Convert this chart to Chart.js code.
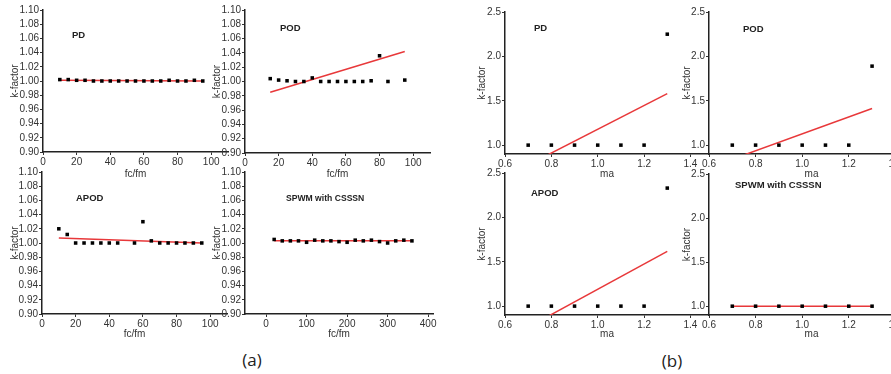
<!DOCTYPE html>
<html>
<head>
<meta charset="utf-8">
<script src="https://cdn.jsdelivr.net/npm/chart.js@4"></script>
<style>
html,body{margin:0;padding:0;background:#fff;overflow:hidden;width:891px;height:374px;position:relative}
canvas{position:absolute}
.lbl{position:absolute;font-family:'Open Sans',sans-serif;font-size:17px;line-height:20px;color:#222;transform:translateX(-50%)}
</style>
</head>
<body>
<div class="lbl" style="left:252px;top:350px">(a)</div>
<div class="lbl" style="left:672px;top:351px">(b)</div>
<script>
// (a) k-factor vs fc/fm
const pdFc = [10,15,20,25,30,35,40,45,50,55,60,65,70,75,80,85,90,95];
const pdK  = [1.002,1.002,1.001,1.001,1.000,1.000,1.000,1.000,1.000,1.000,1.000,1.000,1.000,1.001,1.000,1.000,1.001,1.000];
const pdFitFc = [10,95], pdFitK = [1.001,1.000];

const podFc = [15,20,25,30,35,40,45,50,55,60,65,70,75,80,85,95];
const podK  = [1.004,1.002,1.001,1.000,1.000,1.005,1.000,1.000,1.000,1.000,1.000,1.000,1.001,1.036,1.000,1.002];
const podFitFc = [15,95], podFitK = [0.985,1.042];

const apodFc = [10,15,20,25,30,35,40,45,55,60,65,70,75,80,85,90,95];
const apodK  = [1.020,1.012,1.000,1.000,1.000,1.000,1.000,1.000,1.000,1.030,1.003,1.000,1.000,1.000,1.000,1.000,1.000];
const apodFitFc = [10,95], apodFitK = [1.007,1.000];

const cssFc = [20,40,60,80,100,120,140,160,180,200,220,240,260,280,300,320,340,360];
const cssK  = [1.005,1.003,1.003,1.003,1.001,1.004,1.003,1.003,1.002,1.001,1.004,1.003,1.004,1.002,1.000,1.003,1.004,1.003];
const cssFitFc = [20,360], cssFitK = [1.003,1.003];

// (b) k-factor vs ma
const ma = [0.7,0.8,0.9,1.0,1.1,1.2,1.3];
const pdMaK   = [1,1,1,1,1,1,2.25];
const podMaK  = [1,1,1,1,1,1,1.89];
const apodMaK = [1,1,1,1,1,1,2.33];
const cssMaK  = [1,1,1,1,1,1,1];
const fitMa = [0.7,1.3];
const pdMaFit = [0.777,1.580], podMaFit = [0.841,1.413], apodMaFit = [0.763,1.617], cssMaFit = [1.0,1.0];

// tick labels
const kTicksA = [0.90,0.92,0.94,0.96,0.98,1.00,1.02,1.04,1.06,1.08,1.10];
const fcTicks = [0,20,40,60,80,100];
const fcTicksCss = [0,100,200,300,400];
const kTicksB = [1.0,1.5,2.0,2.5];
const maTicks = [0.6,0.8,1.0,1.2,1.4];

Chart.defaults.font.family = "'Liberation Sans', Arial, sans-serif";
Chart.defaults.font.size = 10;
Chart.defaults.color = '#333';

// panel title drawn inside the plot area
const panelTitle = {
  id:'panelTitle',
  afterDatasetsDraw(chart, args, o){
    const a = chart.chartArea, ctx = chart.ctx;
    ctx.save();
    ctx.font = "bold " + o.size + "px 'Liberation Sans', Arial, sans-serif";
    ctx.fillStyle = '#222';
    ctx.textBaseline = 'middle';
    ctx.fillText(o.text, a.left + o.dx, a.top + o.dy);
    ctx.restore();
  }
};

function pts(xs, ys){ return xs.map((x,i)=>({x:x, y:ys[i]})); }

function makePanel(p){
  const padTop = 8, padR = 6;
  const [l,t,r,b] = p.area;
  const c = document.createElement('canvas');
  const w = p.yw + (r-l) + padR, h = padTop + (b-t) + p.xh;
  c.width = w; c.height = h;
  c.style.left = (l - p.yw) + 'px';
  c.style.top = (t - padTop) + 'px';
  c.style.width = w + 'px'; c.style.height = h + 'px';
  document.body.appendChild(c);

  const axisBase = {
    type:'linear',
    grid:{drawOnChartArea:false, drawTicks:true, tickLength:3, color:'#333', lineWidth:1},
    border:{color:'#222', width:1.5},
  };
  new Chart(c, {
    type:'scatter',
    data:{datasets:[
      {data:pts(p.xs,p.ys), pointStyle:'rect', pointRadius:2.5, backgroundColor:'#000', borderWidth:0, showLine:false, order:1},
      {data:pts(p.fitX,p.fitY), showLine:true, borderColor:'#e8383a', borderWidth:1.5, pointRadius:0, order:2}
    ]},
    options:{
      responsive:false, animation:false, devicePixelRatio:1,
      layout:{padding:{top:padTop, right:padR, left:0, bottom:0}},
      plugins:{legend:{display:false}, tooltip:{enabled:false},
        panelTitle:{text:p.title, dx:p.tdx, dy:p.tdy, size:p.tsize || 9.5}},
      scales:{
        x:Object.assign({}, axisBase, {
          min:p.xmin, max:p.xmax,
          afterBuildTicks:s=>{ s.ticks = p.xt.map(v=>({value:v})); },
          afterFit:s=>{ s.height = p.xh; },
          ticks:{padding:1, maxRotation:0, autoSkip:false, callback:v=>v.toFixed(p.xd)},
          title:{display:true, text:p.xlabel, padding:0, color:'#333'}
        }),
        y:Object.assign({}, axisBase, {
          min:p.ymin, max:p.ymax,
          afterBuildTicks:s=>{ s.ticks = p.yt.map(v=>({value:v})); },
          afterFit:s=>{ s.width = p.yw; },
          ticks:{padding:1, autoSkip:false, callback:v=>v.toFixed(p.yd)},
          title:{display:true, text:'k-factor', padding:0, color:'#333'}
        })
      }
    },
    plugins:[panelTitle]
  });
}

const aBase = {ymin:0.9, ymax:1.1, yt:kTicksA, yd:2, xd:0, xlabel:'fc/fm'};
const bBase = {ymin:0.9, ymax:2.5, yt:kTicksB, yd:1, xd:1, xlabel:'ma', xmin:0.6, xmax:1.48, xt:maTicks};

const panels = [
  Object.assign({}, aBase, {title:'PD', xs:pdFc, ys:pdK, fitX:pdFitFc, fitY:pdFitK, xmin:0, xmax:110, xt:fcTicks,
    area:[43,10,228,152], yw:34, xh:28, tdx:29, tdy:25}),
  Object.assign({}, aBase, {title:'POD', xs:podFc, ys:podK, fitX:podFitFc, fitY:podFitK, xmin:0, xmax:110, xt:fcTicks,
    area:[245,10,430,153], yw:34, xh:27, tdx:35, tdy:18}),
  Object.assign({}, aBase, {title:'APOD', xs:apodFc, ys:apodK, fitX:apodFitFc, fitY:apodFitK, xmin:0, xmax:110, xt:fcTicks,
    area:[42,172,227,314], yw:33, xh:26, tdx:34, tdy:26}),
  Object.assign({}, aBase, {title:'SPWM with CSSSN', xs:cssFc, ys:cssK, fitX:cssFitFc, fitY:cssFitK, xmin:-52, xmax:412, xt:fcTicksCss,
    area:[245,172,433,314], yw:34, xh:26, tdx:41, tdy:27, tsize:8.6}),
  Object.assign({}, bBase, {title:'PD', xs:ma, ys:pdMaK, fitX:fitMa, fitY:pdMaFit,
    area:[505,12,709,154], yw:29, xh:26, tdx:29, tdy:16}),
  Object.assign({}, bBase, {title:'POD', xs:ma, ys:podMaK, fitX:fitMa, fitY:podMaFit,
    area:[709,12,914,154], yw:28, xh:26, tdx:34, tdy:17}),
  Object.assign({}, bBase, {title:'APOD', xs:ma, ys:apodMaK, fitX:fitMa, fitY:apodMaFit,
    area:[505,173,709,315], yw:29, xh:25, tdx:26, tdy:20}),
  Object.assign({}, bBase, {title:'SPWM with CSSSN', xs:ma, ys:cssMaK, fitX:fitMa, fitY:cssMaFit,
    area:[709,174,914,315], yw:28, xh:25, tdx:26, tdy:11})
];

panels.forEach(makePanel);
</script>
</body>
</html>
